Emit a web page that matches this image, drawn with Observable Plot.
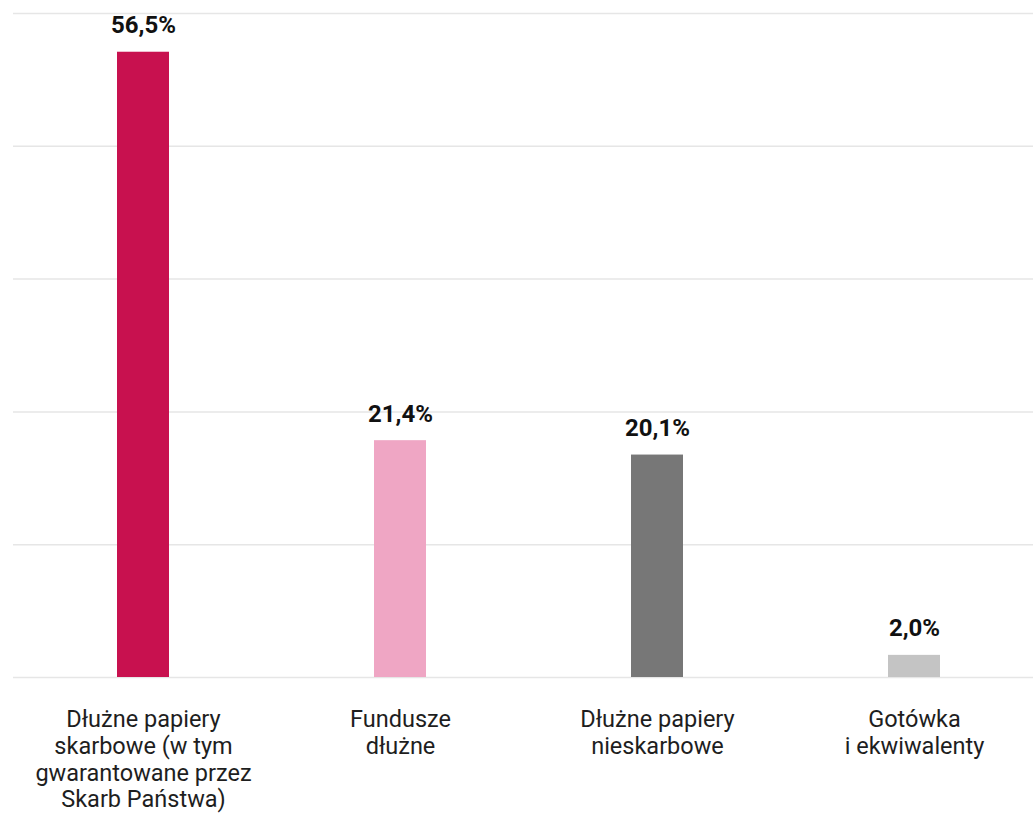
<!DOCTYPE html>
<html>
<head>
<meta charset="utf-8">
<script src="https://cdn.jsdelivr.net/npm/d3@7"></script>
<script src="https://cdn.jsdelivr.net/npm/@observablehq/plot@0.6"></script>
<style>
  html, body { margin: 0; padding: 0; background: #fff; }
  #chart svg { display: block; }
</style>
</head>
<body>
<div id="chart"></div>
<script>
const categories = [
  "Dłużne papiery\nskarbowe (w tym\ngwarantowane przez\nSkarb Państwa)",
  "Fundusze\ndłużne",
  "Dłużne papiery\nnieskarbowe",
  "Gotówka\ni ekwiwalenty"
];
const values = [56.5, 21.4, 20.1, 2.0];
const colors = ["#C8114F", "#EFA6C4", "#777777", "#C4C4C4"];
const gridTicks = [0, 12, 24, 36, 48, 60];

const data = categories.map((c, i) => ({category: c, value: values[i], color: colors[i]}));
const fmt = v => v.toFixed(1).replace(".", ",") + "%";

const chart = Plot.plot({
  width: 1033,
  height: 814,
  marginTop: 13,
  marginBottom: 137,
  marginLeft: 13,
  marginRight: 0,
  style: {fontFamily: "Roboto, sans-serif", background: "#fff"},
  x: {domain: categories, range: [24, 1033], paddingInner: 0.798, paddingOuter: 0.362, axis: null},
  y: {domain: [0, 60], axis: null},
  marks: [
    Plot.ruleY(gridTicks, {stroke: "#e6e6e6", strokeWidth: 1.5}),
    Plot.barY(data, {x: "category", y: "value", fill: "color"}),
    Plot.text(data, {
      x: "category", y: "value", text: d => fmt(d.value),
      lineAnchor: "bottom", dy: -19, fontSize: 24, fontWeight: "bold", fill: "#111"
    }),
    Plot.text(data, {
      x: "category", y: 0, text: "category",
      dy: 31, lineAnchor: "top", lineHeight: 1.132, fontSize: 23.5, fill: "#1e1e1e"
    })
  ]
});
document.getElementById("chart").appendChild(chart);
</script>
</body>
</html>
